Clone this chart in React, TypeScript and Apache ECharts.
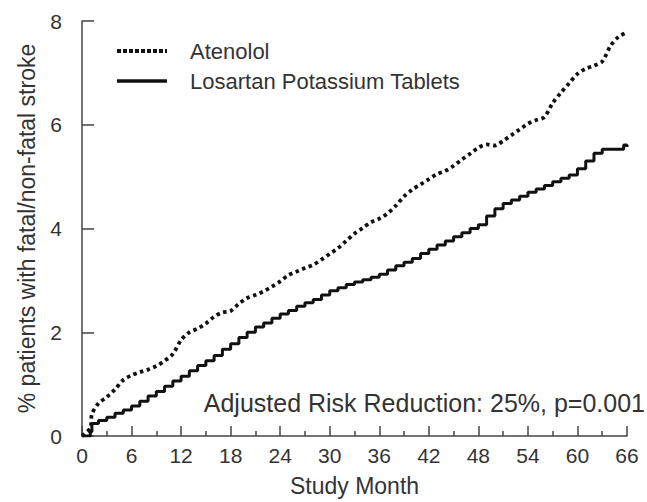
import React, { useEffect, useRef } from "react";
import * as echarts from "echarts";

const xTicks = [0, 6, 12, 18, 24, 30, 36, 42, 48, 54, 60, 66];
const yTicks = [0, 2, 4, 6, 8];

const atenololMonths = [0, 1, 1.2, 2, 3, 4, 5, 6, 7, 8, 9, 10, 11, 12, 13, 14, 15, 16, 17, 18, 19, 20, 21, 22, 23, 24, 25, 26, 27, 28, 29, 30, 31, 32, 33, 34, 35, 36, 37, 38, 39, 40, 41, 42, 43, 44, 45, 46, 47, 48, 49, 50, 51, 52, 53, 54, 55, 56, 57, 58, 59, 60, 61, 62, 63, 64, 65, 66];
const atenololPct = [0, 0.15, 0.42, 0.63, 0.75, 0.9, 1.08, 1.17, 1.23, 1.28, 1.35, 1.45, 1.58, 1.85, 2.0, 2.07, 2.17, 2.3, 2.38, 2.41, 2.55, 2.66, 2.72, 2.79, 2.88, 2.98, 3.1, 3.17, 3.24, 3.3, 3.4, 3.51, 3.62, 3.76, 3.9, 4.01, 4.12, 4.19, 4.29, 4.44, 4.62, 4.75, 4.85, 4.95, 5.05, 5.11, 5.21, 5.33, 5.44, 5.56, 5.62, 5.6, 5.69, 5.8, 5.91, 6.02, 6.09, 6.15, 6.42, 6.62, 6.8, 6.98, 7.08, 7.14, 7.22, 7.52, 7.7, 7.78];

const losartanMonths = [0, 1, 1.2, 2, 3, 4, 5, 6, 7, 8, 9, 10, 11, 12, 13, 14, 15, 16, 17, 18, 19, 20, 21, 22, 23, 24, 25, 26, 27, 28, 29, 30, 31, 32, 33, 34, 35, 36, 37, 38, 39, 40, 41, 42, 43, 44, 45, 46, 47, 48, 49, 50, 51, 52, 53, 54, 55, 56, 57, 58, 59, 60, 61, 62, 63, 64, 65, 65.6, 66];
const losartanPct = [0, 0.08, 0.24, 0.3, 0.36, 0.44, 0.5, 0.58, 0.67, 0.77, 0.86, 0.96, 1.06, 1.15, 1.26, 1.36, 1.45, 1.55, 1.67, 1.78, 1.9, 2.0, 2.1, 2.18, 2.27, 2.35, 2.42, 2.5, 2.57, 2.63, 2.72, 2.8, 2.86, 2.92, 2.97, 3.01, 3.06, 3.12, 3.2, 3.28, 3.35, 3.42, 3.52, 3.6, 3.68, 3.76, 3.84, 3.92, 4.0, 4.07, 4.24, 4.38, 4.48, 4.55, 4.62, 4.7, 4.76, 4.83, 4.9, 4.97, 5.03, 5.15, 5.3, 5.45, 5.53, 5.53, 5.53, 5.61, 5.57];

const seriesNames = ["Atenolol", "Losartan Potassium Tablets"];
const yAxisTitle = "% patients with fatal/non-fatal stroke";
const xAxisTitle = "Study Month";
const note = "Adjusted Risk Reduction: 25%, p=0.001";

const FONT = "'Liberation Sans', Arial, sans-serif";
const TEXT = "#333333";
const AXIS = "#444444";

export default function App() {
  const ref = useRef<HTMLDivElement>(null);
  useEffect(() => {
    if (!ref.current) return;
    const chart = echarts.init(ref.current, undefined, { renderer: "svg" });
    const aten = atenololMonths.map((m, i) => [m, atenololPct[i]]);
    const los = losartanMonths.map((m, i) => [m, losartanPct[i]]);
    chart.setOption({
      animation: false,
      backgroundColor: "#ffffff",
      textStyle: { fontFamily: FONT },
      grid: { left: 82, right: 20, top: 21, bottom: 66, containLabel: false },
      legend: {
        orient: "vertical",
        left: 115,
        top: 40,
        padding: 0,
        itemWidth: 50,
        itemHeight: 16,
        itemGap: 8,
        itemStyle: { opacity: 0 },
        textStyle: { fontSize: 22, color: TEXT, fontFamily: FONT, padding: [0, 0, 0, 18] },
        data: [
          { name: seriesNames[0], lineStyle: { width: 4, type: [4, 2], color: "#111111" } },
          { name: seriesNames[1], lineStyle: { width: 3.5, type: "solid", color: "#111111" } },
        ],
      },
      xAxis: {
        type: "value",
        min: 0,
        max: 66,
        interval: 6,
        name: xAxisTitle,
        nameLocation: "middle",
        nameGap: 38,
        nameTextStyle: { fontSize: 23, color: TEXT, fontFamily: FONT },
        axisLine: { show: true, onZero: false, lineStyle: { color: AXIS, width: 1.5 } },
        axisTick: { show: true, inside: true, length: 10, lineStyle: { color: AXIS, width: 1.5 } },
        minorTick: { show: true, splitNumber: 2, length: 5, lineStyle: { color: AXIS, width: 1.5 } },
        axisLabel: {
          fontSize: 21,
          color: TEXT,
          margin: 9,
          fontFamily: FONT,
          formatter: (v: number) => (xTicks.includes(v) ? String(v) : ""),
        },
        splitLine: { show: false },
      },
      yAxis: {
        type: "value",
        min: 0,
        max: 8,
        interval: 2,
        name: yAxisTitle,
        nameLocation: "middle",
        nameGap: 44,
        nameTextStyle: { fontSize: 23, color: TEXT, fontFamily: FONT },
        axisLine: { show: true, lineStyle: { color: AXIS, width: 1.5 } },
        axisTick: { show: true, inside: true, length: 12, lineStyle: { color: AXIS, width: 1.5 } },
        axisLabel: {
          fontSize: 21,
          color: TEXT,
          margin: 20,
          fontFamily: FONT,
          formatter: (v: number) => (yTicks.includes(v) ? String(v) : ""),
        },
        splitLine: { show: false },
      },
      series: [
        {
          name: seriesNames[0],
          type: "line",
          data: aten,
          smooth: 0.3,
          symbol: "none",
          lineStyle: { color: "#111111", width: 3.8, type: [3.5, 3.5], cap: "butt" },
          itemStyle: { color: "#111111" },
          z: 3,
        },
        {
          name: seriesNames[1],
          type: "line",
          data: los,
          step: "end",
          symbol: "none",
          lineStyle: { color: "#111111", width: 3, type: "solid" },
          itemStyle: { color: "#111111" },
          z: 4,
        },
      ],
      graphic: [
        {
          type: "text",
          right: 2,
          top: 390,
          style: { text: note, fontSize: 25, fill: TEXT, fontFamily: FONT },
        },
      ],
    });
    return () => chart.dispose();
  }, []);
  return (
    <div
      ref={ref}
      style={{ position: "fixed", left: 0, top: 0, width: 647, height: 502, background: "#fff" }}
    />
  );
}
